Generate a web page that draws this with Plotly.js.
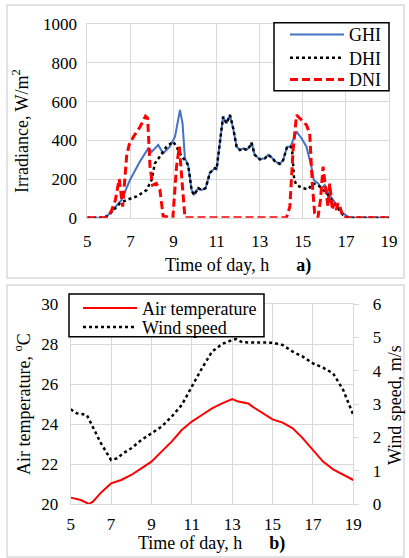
<!DOCTYPE html>
<html>
<head>
<meta charset="utf-8">
<script src="https://cdn.plot.ly/plotly-3.0.1.min.js"></script>
<style>html,body{margin:0;padding:0;background:#fff;}#chart{width:409px;height:558px;}</style>
</head>
<body>
<div id="chart"></div>
<script>
// ---- Panel a) irradiance ----
const ghiTime = [5, 5.82, 6.05, 6.3, 6.59, 6.98, 7.44, 7.83, 7.98, 8.15, 8.29, 8.52, 8.83, 9.07, 9.3, 9.42, 9.53, 9.68, 9.84, 9.95, 10.15, 10.3, 10.49, 10.69, 10.92, 11.0, 11.15, 11.3, 11.46, 11.62, 11.77, 11.93, 12.08, 12.23, 12.39, 12.55, 12.62, 12.77, 13.0, 13.24, 13.39, 13.55, 13.7, 13.93, 14.09, 14.27, 14.43, 14.52, 14.71, 14.94, 15.17, 15.4, 15.51, 15.71, 15.87, 16.02, 16.18, 16.4, 16.64, 16.87, 17.1, 17.25, 19];
const ghi = [0, 0, 23, 55, 92, 195, 290, 359, 340, 360, 376, 333, 367, 419, 557, 488, 307, 272, 143, 117, 153, 143, 153, 232, 256, 250, 402, 522, 488, 531, 462, 367, 350, 359, 350, 370, 388, 325, 302, 307, 325, 312, 293, 278, 298, 367, 367, 393, 445, 411, 367, 264, 195, 177, 152, 169, 126, 92, 57, 22, 5, 0, 0];

const dhiTime = [5, 5.82, 6.05, 6.52, 6.83, 7.29, 7.75, 7.98, 8.14, 8.45, 8.68, 8.99, 9.14, 9.38, 9.53, 9.68, 9.84, 9.95, 10.15, 10.3, 10.49, 10.69, 10.92, 11.0, 11.15, 11.3, 11.46, 11.62, 11.77, 11.93, 12.08, 12.23, 12.39, 12.55, 12.62, 12.77, 13.0, 13.24, 13.39, 13.55, 13.7, 13.93, 14.09, 14.27, 14.43, 14.5, 14.6, 14.71, 15.02, 15.25, 15.48, 15.71, 15.94, 16.18, 16.4, 16.64, 16.87, 17.1, 17.25, 19];
const dhi = [0, 0, 20, 75, 92, 110, 143, 195, 281, 333, 367, 393, 367, 316, 298, 272, 143, 117, 153, 143, 153, 232, 256, 250, 402, 522, 488, 531, 462, 367, 350, 359, 350, 370, 388, 325, 302, 307, 325, 312, 293, 278, 298, 367, 367, 360, 195, 169, 152, 147, 177, 169, 143, 117, 83, 48, 14, 0, 0, 0];

const dniTime = [5, 5.82, 6.1, 6.3, 6.48, 6.64, 6.83, 6.95, 7.15, 7.45, 7.7, 7.8, 7.91, 8.03, 8.2, 8.37, 8.52, 8.97, 9.14, 9.27, 9.38, 9.53, 14.24, 14.4, 14.55, 14.71, 14.94, 15.17, 15.32, 15.44, 15.55, 15.7, 15.82, 15.94, 16.05, 16.17, 16.25, 16.37, 16.45, 16.55, 16.64, 16.72, 16.87, 19];
const dni = [0, 0, 30, 90, 200, 57, 324, 380, 420, 470, 525, 515, 264, 169, 177, 143, 8, 0, 264, 367, 212, 0, 0, 57, 350, 531, 505, 479, 436, 177, 22, 0, 92, 264, 160, 57, 177, 40, 75, 40, 75, 57, 0, 0];

// ---- Panel b) air temperature & wind speed ----
const tempTime = [5, 5.5, 5.9, 6.1, 6.5, 7, 7.5, 8, 8.5, 9, 9.5, 10, 10.5, 11, 11.5, 12, 12.5, 13, 13.3, 13.8, 14, 14.5, 15, 15.5, 16, 16.5, 17, 17.5, 18, 18.5, 19];
const airTemp = [20.32, 20.2, 20.0, 20.12, 20.57, 21.03, 21.2, 21.45, 21.78, 22.12, 22.62, 23.12, 23.7, 24.12, 24.45, 24.78, 25.03, 25.25, 25.12, 25.03, 24.87, 24.53, 24.23, 24.07, 23.78, 23.28, 22.7, 22.12, 21.73, 21.45, 21.2];

const windTime = [5, 5.3, 5.8, 6, 6.5, 7, 7.3, 7.6, 8, 8.5, 9, 9.5, 10, 10.5, 11, 11.5, 12, 12.5, 13, 13.2, 13.5, 14, 15, 15.5, 16, 16.5, 17, 17.5, 18, 18.5, 19];
const windSpeed = [2.84, 2.72, 2.67, 2.42, 1.82, 1.32, 1.37, 1.52, 1.67, 1.92, 2.12, 2.32, 2.62, 2.97, 3.52, 4.07, 4.57, 4.8, 4.92, 4.95, 4.85, 4.84, 4.84, 4.77, 4.57, 4.42, 4.22, 4.09, 3.92, 3.42, 2.67];

const hourTicks = [5, 7, 9, 11, 13, 15, 17, 19];

const W = 409, H = 558;
const px = v => v / W;
const py = v => 1 - v / H;
const FONT = 'Liberation Serif';
const GRID = '#d9d9d9';

const traces = [
  {x: ghiTime, y: ghi, name: 'GHI', type: 'scatter', mode: 'lines', xaxis: 'x', yaxis: 'y',
   line: {color: '#4472C4', width: 2}, legend: 'legend'},
  {x: dhiTime, y: dhi, name: 'DHI', type: 'scatter', mode: 'lines', xaxis: 'x', yaxis: 'y',
   line: {color: '#000000', width: 2.5, dash: 'dot'}, legend: 'legend2'},
  {x: dniTime, y: dni, name: 'DNI', type: 'scatter', mode: 'lines', xaxis: 'x', yaxis: 'y',
   line: {color: '#FF0000', width: 3, dash: '8px,4px'}, legend: 'legend3'},
  {x: tempTime, y: airTemp, name: 'Air temperature', type: 'scatter', mode: 'lines', xaxis: 'x2', yaxis: 'y2',
   line: {color: '#FF0000', width: 2}, legend: 'legend4'},
  {x: windTime, y: windSpeed, name: 'Wind speed', type: 'scatter', mode: 'lines', xaxis: 'x2', yaxis: 'y3',
   line: {color: '#000000', width: 2.5, dash: 'dot'}, legend: 'legend5'}
];

const tickFont = {family: FONT, size: 17, color: '#000'};
const axBase = {
  showgrid: true, gridcolor: GRID, gridwidth: 1,
  showline: true, linecolor: GRID, linewidth: 1, mirror: true,
  zeroline: false, ticks: '', tickfont: tickFont
};

const legBase = {
  bgcolor: 'rgba(0,0,0,0)', borderwidth: 0, xanchor: 'left', yanchor: 'top',
  font: {family: FONT, size: 18, color: '#000'}, itemwidth: 54, orientation: 'v'
};
const LEG_OFF = 18.5;

const titleFont = {family: FONT, size: 18, color: '#000'};

const layout = {
  width: W, height: H,
  margin: {l: 0, r: 0, t: 0, b: 0},
  paper_bgcolor: '#fff', plot_bgcolor: '#fff',
  font: {family: FONT, size: 18, color: '#000'},
  showlegend: true,
  xaxis: Object.assign({}, axBase, {domain: [px(87.3), px(389)], range: [5, 19], tickvals: hourTicks, anchor: 'y', ticklabelstandoff: 8}),
  yaxis: Object.assign({}, axBase, {domain: [py(217.7), py(24.3)], range: [0, 1000], dtick: 200, tick0: 0, anchor: 'x', ticklabelstandoff: 6}),
  xaxis2: Object.assign({}, axBase, {domain: [px(70.7), px(353.3)], range: [5, 19], tickvals: hourTicks, anchor: 'y2', ticklabelstandoff: 5}),
  yaxis2: Object.assign({}, axBase, {domain: [py(504), py(304)], range: [20, 30], dtick: 2, tick0: 20, anchor: 'x2', ticklabelstandoff: 8}),
  yaxis3: Object.assign({}, axBase, {overlaying: 'y2', side: 'right', range: [0, 6], dtick: 1, tick0: 0, anchor: 'x2',
    showgrid: false, mirror: false, ticks: 'outside', ticklen: 5, tickcolor: GRID, ticklabelstandoff: 10}),
  legend: Object.assign({}, legBase, {x: px(285), y: py(34.7 - LEG_OFF)}),
  legend2: Object.assign({}, legBase, {x: px(285), y: py(58 - LEG_OFF)}),
  legend3: Object.assign({}, legBase, {x: px(285), y: py(79.7 - LEG_OFF)}),
  legend4: Object.assign({}, legBase, {x: px(78), y: py(306.7 - 17)}),
  legend5: Object.assign({}, legBase, {x: px(78), y: py(325.7 - 17)}),
  shapes: [
    {type: 'rect', xref: 'paper', yref: 'paper', x0: px(7), x1: px(404), y0: py(278), y1: py(5), line: {color: GRID, width: 1.5}, layer: 'below'},
    {type: 'rect', xref: 'paper', yref: 'paper', x0: px(7), x1: px(404), y0: py(557), y1: py(285), line: {color: GRID, width: 1.5}, layer: 'below'},
    {type: 'rect', xref: 'paper', yref: 'paper', x0: px(274), x1: px(389), y0: py(90.7), y1: py(22.7), line: {color: '#000', width: 1.5}, fillcolor: '#fff', layer: 'above'},
    {type: 'rect', xref: 'paper', yref: 'paper', x0: px(69), x1: px(264), y0: py(336.7), y1: py(294), line: {color: '#000', width: 1.5}, fillcolor: '#fff', layer: 'above'}
  ],
  annotations: [
    {text: 'Irradiance, W/m<sup>2</sup>', xref: 'paper', yref: 'paper', x: px(21), y: py(131), textangle: -90, showarrow: false, xanchor: 'center', yanchor: 'middle', font: titleFont},
    {text: 'Time of day, h\u00a0\u00a0\u00a0\u00a0\u00a0\u00a0<b>a)</b>', xref: 'paper', yref: 'paper', x: px(238), y: py(265), showarrow: false, xanchor: 'center', yanchor: 'middle', font: titleFont},
    {text: 'Air temperature, <sup>o</sup>C', xref: 'paper', yref: 'paper', x: px(22), y: py(404), textangle: -90, showarrow: false, xanchor: 'center', yanchor: 'middle', font: titleFont},
    {text: 'Wind speed, m/s', xref: 'paper', yref: 'paper', x: px(395), y: py(405), textangle: -90, showarrow: false, xanchor: 'center', yanchor: 'middle', font: titleFont},
    {text: 'Time of day, h\u00a0\u00a0\u00a0\u00a0\u00a0\u00a0<b>b)</b>', xref: 'paper', yref: 'paper', x: px(212), y: py(543), showarrow: false, xanchor: 'center', yanchor: 'middle', font: titleFont}
  ]
};

Plotly.newPlot('chart', traces, layout, {displayModeBar: false, staticPlot: true});
</script>
</body>
</html>
